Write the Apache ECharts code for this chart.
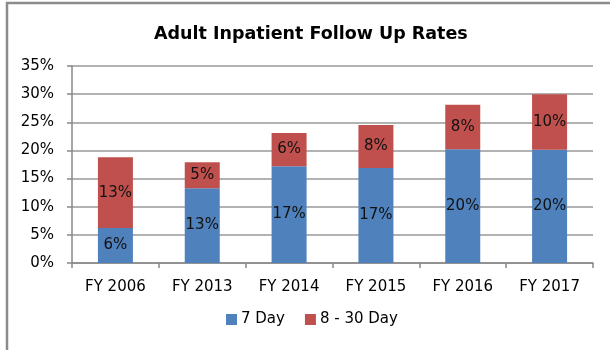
<!DOCTYPE html>
<html>
<head>
<meta charset="utf-8">
<script src="https://cdn.jsdelivr.net/npm/echarts@6/dist/echarts.min.js"></script>
<style>
  html, body { margin: 0; padding: 0; background: #fff; }
  #chart { width: 610px; height: 350px; }
</style>
</head>
<body>
<div id="chart"></div>
<script>
const titleText = 'Adult Inpatient Follow Up Rates';
const categories = ['FY 2006', 'FY 2013', 'FY 2014', 'FY 2015', 'FY 2016', 'FY 2017'];
const sevenDay = [6.2, 13.3, 17.2, 16.9, 20.2, 20.1];
const eightToThirtyDay = [12.6, 4.6, 5.9, 7.6, 7.9, 9.9];
const seriesNames = ['7 Day', '8 - 30 Day'];

const FONT = '"DejaVu Sans", sans-serif';
const chart = echarts.init(document.getElementById('chart'), null, { renderer: 'canvas' });

const labelStyle = {
  show: true,
  position: 'inside',
  color: '#111',
  fontFamily: FONT,
  fontSize: 15,
  formatter: p => Math.round(p.value) + '%'
};

chart.setOption({
  animation: false,
  backgroundColor: '#fff',
  title: {
    text: titleText,
    left: 149,
    top: 20,
    textStyle: { fontFamily: FONT, fontSize: 17.5, fontWeight: 'bold', color: '#000' }
  },
  legend: {
    data: seriesNames,
    bottom: 18,
    left: 221,
    icon: 'rect',
    itemWidth: 11,
    itemHeight: 11,
    itemGap: 20,
    itemStyle: { borderWidth: 0 },
    textStyle: { fontFamily: FONT, fontSize: 15, color: '#000', padding: [0, 0, 0, -1] }
  },
  grid: { left: 72, right: 17, top: 66, bottom: 87 },
  xAxis: {
    type: 'category',
    data: categories,
    axisLine: { lineStyle: { color: '#888', width: 1.5 } },
    axisTick: { show: true, length: 5, lineStyle: { color: '#888', width: 1.5 } },
    axisLabel: { fontFamily: FONT, fontSize: 15, color: '#000', margin: 17 }
  },
  yAxis: {
    type: 'value',
    min: 0,
    max: 35,
    interval: 5,
    axisLine: { show: true, lineStyle: { color: '#888', width: 1.5 } },
    axisTick: { show: true, length: 5, lineStyle: { color: '#888', width: 1.5 } },
    splitLine: { lineStyle: { color: '#999', width: 1.5 } },
    axisLabel: { fontFamily: FONT, fontSize: 15, color: '#000', margin: 18, formatter: '{value}%' }
  },
  series: [
    {
      name: seriesNames[0],
      type: 'bar',
      stack: 'rate',
      data: sevenDay,
      barWidth: 35,
      itemStyle: { color: '#4F81BD' },
      label: labelStyle
    },
    {
      name: seriesNames[1],
      type: 'bar',
      stack: 'rate',
      data: eightToThirtyDay,
      barWidth: 35,
      itemStyle: { color: '#C0504D' },
      label: labelStyle
    }
  ],
  graphic: [
    {
      type: 'polyline',
      shape: { points: [[7, 350], [7, 3], [610, 3]] },
      style: { stroke: '#8c8c8c', lineWidth: 2.5, fill: null }
    }
  ]
});
</script>
</body>
</html>
